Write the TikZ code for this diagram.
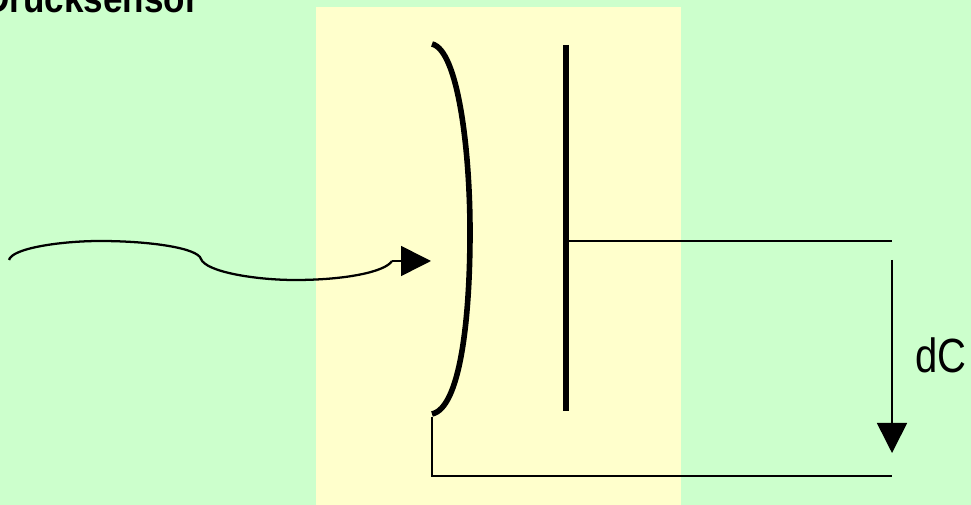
\documentclass[tikz,border=0pt]{standalone}
\usepackage{fontspec}
\setmainfont{Liberation Sans}
\usetikzlibrary{arrows.meta}
\definecolor{bggreen}{RGB}{204,255,204}
\definecolor{bgyellow}{RGB}{255,255,204}
\begin{document}
\begin{tikzpicture}[x=0.75pt, y=-0.75pt, >={Triangle[length=22.5pt,width=22.5pt]},
    wire/.style={line width=1.7pt, black},
    plate/.style={line width=4.2pt, black},
    thinline/.style={line width=1.2pt, black}]
  \useasboundingbox (0,0) rectangle (971,505);
  % hintergrund
  \fill[bggreen] (0,0) rectangle (971,505);
  \fill[bgyellow] (316,7) rectangle (681,505);
  % titel, oben angeschnitten
  \node[anchor=base east, inner sep=0pt, yscale=1.12, font=\bfseries\fontsize{26.3pt}{30pt}\selectfont] (title) at (199,13) {Drucksensor};
  % punkte der anschluesse
  \coordinate (membtop) at (432,44);
  \coordinate (membbot) at (432,414);
  \coordinate (platetop) at (566,45);
  \coordinate (platebot) at (566,411);
  \coordinate (platetap) at (566,241);
  \coordinate (wireup) at (892,241);
  \coordinate (membtap) at (432,417);
  \coordinate (corner) at (432,476);
  \coordinate (wirelow) at (892,476);
  \coordinate (dcstart) at (892,260);
  \coordinate (dcend) at (892,453);
  \coordinate (wavestart) at (9,260);
  \coordinate (wavemid) at (201,259);
  \coordinate (waveend) at (392,261);
  \coordinate (wavetip) at (431,261);
  % membran und platte
  \draw[plate, line cap=butt] (membtop) .. controls (458,50) and (470,150) .. (470,232)
    .. controls (470,320) and (460,408) .. (membbot);
  \draw[line width=4.5pt] (platetop) -- (platebot);
  % leitungen
  \draw[wire] (platetap) -- (wireup);
  \draw[wire] (membtap) -- (corner) -- (wirelow);
  % druckpfeil
  \draw[wire] (wavestart) .. controls (12,248) and (62,241) .. (100,241)
    .. controls (150,241) and (198,248) .. (wavemid)
    .. controls (206,272) and (256,280) .. (295,280)
    .. controls (345,280) and (385,272) .. (waveend);
  \draw[thinline, ->] (waveend) -- (wavetip);
  % spannungspfeil
  \draw[thinline, ->] (dcstart) -- (dcend);
  \node[inner sep=0pt, font=\fontsize{30pt}{34pt}\selectfont, yscale=1.2] (dclabel) at (941,355) {dC};
\end{tikzpicture}
\end{document}
